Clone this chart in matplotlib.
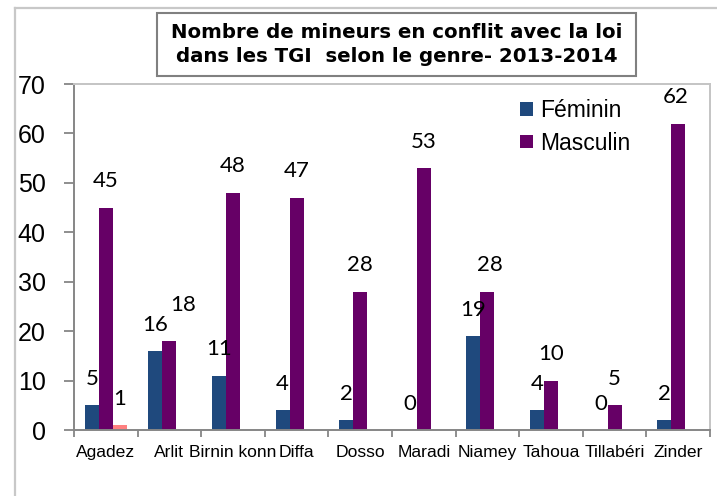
import numpy as np
import matplotlib
matplotlib.use("Agg")
import matplotlib.pyplot as plt
from matplotlib.patches import Rectangle

categories = ["Agadez", "Arlit", "Birnin konn", "Diffa", "Dosso", "Maradi",
              "Niamey", "Tahoua", "Tillabéri", "Zinder"]
feminin = [5, 16, 11, 4, 2, 0, 19, 4, 0, 2]
masculin = [45, 18, 48, 47, 28, 53, 28, 10, 5, 62]
autre = [1, None, None, None, None, None, None, None, None, None]
yticks = [0, 10, 20, 30, 40, 50, 60, 70]
title = "Nombre de mineurs en conflit avec la loi\ndans les TGI  selon le genre- 2013-2014"

c_fem = "#1F497D"
c_mas = "#660066"
c_aut = "#FF8080"

W, H = 717, 496
fig = plt.figure(figsize=(W / 100, H / 100), dpi=100)
ax = fig.add_axes([74 / W, 1 - 430 / H, (710 - 74) / W, (430 - 84) / H])

x = np.arange(len(categories))
bw = 0.22
ax.bar(x - bw, feminin, bw, color=c_fem, label="Féminin")
ax.bar(x, masculin, bw, color=c_mas, label="Masculin")
aut_vals = [np.nan if v is None else v for v in autre]
ax.bar(x + bw, aut_vals, bw, color=c_aut)

# label nudges in points (dx, dy)
nudges = {("m", 1): (10, 7), ("m", 6): (2, 0), ("m", 9): (-2, 0)}

def label(xpos, val, key):
    dx, dy = nudges.get(key, (0, 0))
    ax.annotate(str(val), (xpos, val), xytext=(dx, 19 + dy), textcoords="offset points",
                ha="center", va="center", fontsize=16, family=["Lato", "DejaVu Sans"],
                color="black")

for i, v in enumerate(feminin):
    label(x[i] - bw, v, ("f", i))
for i, v in enumerate(masculin):
    label(x[i], v, ("m", i))
for i, v in enumerate(autre):
    if v is not None:
        label(x[i] + bw, v, ("a", i))

ax.set_xlim(-0.5, len(categories) - 0.5)
ax.set_ylim(0, 70)
ax.set_yticks(yticks)
ax.set_yticklabels([str(t) for t in yticks], fontsize=18, family="Liberation Sans")
ax.tick_params(axis="y", direction="out", length=7, width=1.3, color="#868686", pad=13.5)

ax.set_xticks(np.arange(-0.5, len(categories), 1.0))
ax.set_xticklabels([])
ax.set_xticks(x, minor=True)
ax.set_xticklabels(categories, minor=True, fontsize=12.6, family="Liberation Sans")
ax.tick_params(axis="x", which="major", direction="out", length=5, width=1.3, color="#868686")
ax.tick_params(axis="x", which="minor", length=0, pad=11)

for s in ["left", "bottom"]:
    ax.spines[s].set_color("#868686")
    ax.spines[s].set_linewidth(1.4)
for s in ["top", "right"]:
    ax.spines[s].set_color("#C4C4C4")
    ax.spines[s].set_linewidth(1.4)

leg = ax.legend(loc="upper left", bbox_to_anchor=(520 / W, 1 - 99 / H),
                bbox_transform=fig.transFigure, frameon=False,
                handlelength=0.55, handleheight=0.55, handletextpad=0.35,
                labelspacing=0.42, borderpad=0, borderaxespad=0,
                prop={"family": "Liberation Sans", "size": 16.5})

# title box
fig.patches.append(Rectangle((157 / W, 1 - 76 / H), (636 - 157) / W, (76 - 13) / H,
                             transform=fig.transFigure, fill=True, facecolor="white",
                             edgecolor="#808080", linewidth=1.5))
fig.text(396.5 / W, 1 - 44.5 / H, title, ha="center", va="center", fontsize=14.2,
         fontweight="bold", family="DejaVu Sans", linespacing=1.35)

# outer chart border
fig.add_artist(plt.Line2D([15 / W, 15 / W], [0, 1 - 7.5 / H], transform=fig.transFigure,
                          color="#C8C8C8", linewidth=1.6))
fig.add_artist(plt.Line2D([15 / W, 1], [1 - 7.5 / H, 1 - 7.5 / H], transform=fig.transFigure,
                          color="#C8C8C8", linewidth=1.6))

fig.savefig("out.png", dpi=100)
